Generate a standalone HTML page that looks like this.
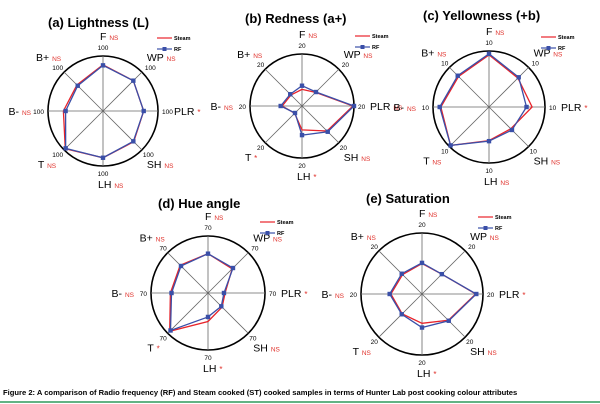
<!DOCTYPE html>
<html><head><meta charset="utf-8">
<style>
html,body{margin:0;padding:0;background:#fff;width:600px;height:404px;overflow:hidden}
svg{display:block;font-family:"Liberation Sans",sans-serif}
.cap{font-weight:bold;font-size:7.6px}
</style></head>
<body>
<svg id="fig" width="600" height="404" viewBox="0 0 600 404" xmlns="http://www.w3.org/2000/svg">
<text class="cap" x="3" y="395">Figure 2: A comparison of Radio frequency (RF) and Steam cooked (ST) cooked samples in terms of Hunter Lab post cooking colour attributes</text>
<line x1="0" y1="402" x2="600" y2="402" stroke="#2e9a5c" stroke-width="1.5"/>
</svg>
<script>
const axes = ["F","WP","PLR","SH","LH","T","B-","B+"];
// values as fraction of full scale
const lightSteam = [0.84,0.78,0.74,0.79,0.85,0.97,0.72,0.67];
const lightRF    = [0.83,0.78,0.74,0.78,0.85,0.96,0.68,0.65];
const lightSig   = ["NS","NS","*","NS","NS","NS","NS","NS"];
const redSteam = [0.32,0.37,0.98,0.68,0.46,0.20,0.38,0.30];
const redRF    = [0.39,0.38,1.00,0.70,0.56,0.19,0.41,0.32];
const redSig   = ["NS","NS","NS","NS","*","*","NS","NS"];
const yelSteam = [0.93,0.73,0.77,0.55,0.60,0.97,0.86,0.77];
const yelRF    = [0.95,0.75,0.67,0.58,0.61,0.97,0.88,0.79];
const yelSig   = ["NS","NS","*","NS","NS","NS","NS","NS"];
const hueSteam = [0.69,0.60,0.30,0.35,0.50,0.95,0.66,0.69];
const hueRF    = [0.69,0.62,0.28,0.33,0.42,0.93,0.64,0.67];
const hueSig   = ["NS","NS","*","NS","*","*","NS","NS"];
const satSteam = [0.50,0.46,0.88,0.61,0.48,0.46,0.51,0.45];
const satRF    = [0.51,0.46,0.89,0.62,0.55,0.47,0.53,0.47];
const satSig   = ["NS","NS","*","NS","*","NS","NS","NS"];

const NS='http://www.w3.org/2000/svg';
const svg=document.getElementById('fig');
function mk(tag,attrs,parent){const e=document.createElementNS(NS,tag);for(const k in attrs)e.setAttribute(k,attrs[k]);(parent||svg).appendChild(e);return e;}

function radar(key,cx,cy,r,tick,title,tx,ty,lx,ly,steam,rf,sig){
  const g=mk('g',{});
  
  
  const t=mk('text',{x:tx,y:ty,'font-size':13,'font-weight':'bold'},g);
  
  
  t.textContent=title;
  const c=mk('circle',{cx:cx,cy:cy,r:r,fill:'none',stroke:'#000','stroke-width':1.6},g);
  
  
  const d=0.7071;
  const pos=[
    [cx,cy-r-6,'middle', cx-3,cy-r-16,'start'],
    [cx+d*r+3,cy-d*r-2,'start', cx+d*r+5,cy-d*r-11,'start'],
    [cx+r+4,cy+3,'start', cx+r+16,cy+4,'start'],
    [cx+d*r+1,cy+d*r+7,'start', cx+d*r+5,cy+d*r+18,'start'],
    [cx,cy+r+10,'middle', cx-5,cy+r+22,'start'],
    [cx-d*r-1,cy+d*r+7,'end', cx-d*r-8,cy+d*r+18,'end'],
    [cx-r-4,cy+3,'end', cx-r-17,cy+4,'end'],
    [cx-d*r-1,cy-d*r-2,'end', cx-d*r-3,cy-d*r-11,'end']
  ];
  axes.forEach((a,i)=>{
    const ang=(-90+45*i)*Math.PI/180;
    const l=mk('line',{x1:cx,y1:cy,x2:cx+r*Math.cos(ang),y2:cy+r*Math.sin(ang),stroke:'#666','stroke-width':0.8},g);
    
    
    const p=pos[i];
    const tk=mk('text',{x:p[0],y:p[1],'font-size':6.5,'text-anchor':p[2]},g);
    
    
    tk.textContent=tick;
    const lb=mk('text',{x:p[3],y:p[4],'font-size':10.5,'text-anchor':p[5]},g);
    
    
    lb.appendChild(document.createTextNode(a+' '));
    const sp=mk('tspan',{fill:'#e0302a','font-size':sig[i]=='*'?8:6.5},lb);
    sp.textContent=sig[i];
  });
  function pts(v){return v.map((x,i)=>{const ang=(-90+45*i)*Math.PI/180;return [cx+r*x*Math.cos(ang),cy+r*x*Math.sin(ang)];});}
  const ps=pts(steam),pr=pts(rf);
  const s=mk('polygon',{points:ps.map(p=>p.join(',')).join(' '),fill:'none',stroke:'#e8232a','stroke-width':1.3},g);
  
  
  const b=mk('polygon',{points:pr.map(p=>p.join(',')).join(' '),fill:'none',stroke:'#3a4fa8','stroke-width':1.3},g);
  
  
  pr.forEach((p,i)=>{
    const m=mk('rect',{x:p[0]-2.2,y:p[1]-2.2,width:4.4,height:4.4,fill:'#3a4fa8'},g);
    
    
  });
  const lg=mk('g',{},g);
  
  
  mk('line',{x1:lx,y1:ly,x2:lx+15,y2:ly,stroke:'#e8232a','stroke-width':1.2},lg);
  const t1=mk('text',{x:lx+17,y:ly+2,'font-size':5.5,'font-weight':'bold'},lg);
  
  
  t1.textContent='Steam';
  mk('line',{x1:lx,y1:ly+11,x2:lx+15,y2:ly+11,stroke:'#3a4fa8','stroke-width':1.2},lg);
  mk('rect',{x:lx+5.5,y:ly+9,width:4,height:4,fill:'#3a4fa8'},lg);
  const t2=mk('text',{x:lx+17,y:ly+13,'font-size':5.5,'font-weight':'bold'},lg);
  
  
  t2.textContent='RF';
}
radar('lightness',103,111,55,'100','(a) Lightness (L)',48,27,157,38,lightSteam,lightRF,lightSig);
radar('redness',302,106,52,'20','(b) Redness (a+)',245,23,355,36,redSteam,redRF,redSig);
radar('yellowness',489,107,56,'10','(c) Yellowness (+b)',423,20,541,37,yelSteam,yelRF,yelSig);
radar('hue',208,293,57,'70','(d) Hue angle',158,208,260,222,hueSteam,hueRF,hueSig);
radar('saturation',422,294,61,'20','(e) Saturation',366,203,478,217,satSteam,satRF,satSig);
</script>
</body></html>
